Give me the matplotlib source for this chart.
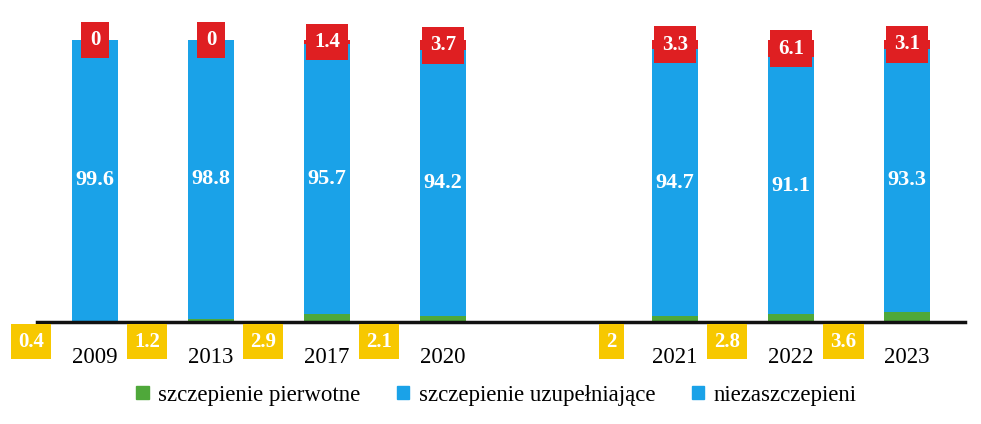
import numpy as np
import matplotlib
matplotlib.use("Agg")
import matplotlib.pyplot as plt
from matplotlib.patches import Patch

plt.rcParams['font.family'] = ['Liberation Serif', 'DejaVu Serif']

# dane
lata = ['2009', '2013', '2017', '2020', '2021', '2022', '2023']
pierwotne = [0.4, 1.2, 2.9, 2.1, 2, 2.8, 3.6]
uzupelniajace = [99.6, 98.8, 95.7, 94.2, 94.7, 91.1, 93.3]
niezaszczepieni = [0, 0, 1.4, 3.7, 3.3, 6.1, 3.1]

zielony = '#4FA83A'
niebieski = '#1AA2E8'
czerwony = '#DF1F22'
zolty = '#F7C800'

# pozycje slupkow - przerwa miedzy 2020 a 2021
x = np.arange(len(lata), dtype=float)
x[4:] += 1

p = np.array(pierwotne)
u = np.array(uzupelniajace)
n = np.array(niezaszczepieni)

fig = plt.figure(figsize=(9.81, 4.24), dpi=100)
ax = fig.add_axes([0.0377, 0.2406, 0.946, 0.665 * 1.07])

w = 0.39
ax.bar(x, p, w, color=zielony)
ax.bar(x, u, w, bottom=p, color=niebieski)
ax.bar(x, n, w, bottom=p + u, color=czerwony)

# etykiety
for xi, pi, ui, ni in zip(x, p, u, n):
    ax.text(xi, pi + ui / 2, f'{ui:g}', ha='center', va='center',
            color='white', fontsize=16, fontweight='bold')
    ax.text(xi, pi + ui + ni / 2, f'{ni:g}', ha='center', va='center',
            color='white', fontsize=15, fontweight='bold',
            bbox=dict(boxstyle='square,pad=0.4', fc=czerwony, ec='none'))
    ax.text(xi - 0.55, -7, f'{pi:g}', ha='center', va='center',
            color='white', fontsize=15, fontweight='bold', clip_on=False,
            bbox=dict(boxstyle='square,pad=0.35', fc=zolty, ec='none'))

ax.set_xlim(-0.5, 7.5)
ax.set_ylim(0, 107)
ax.set_xticks(x)
ax.set_xticklabels(lata, fontsize=16.5)
ax.tick_params(axis='x', length=0, pad=18)
ax.set_yticks([])
for s in ['top', 'left', 'right']:
    ax.spines[s].set_visible(False)
ax.spines['bottom'].set_linewidth(2.5)
ax.spines['bottom'].set_color('#111111')
ax.patch.set_alpha(0)

uchwyty = [Patch(color=zielony, label='szczepienie pierwotne'),
           Patch(color=niebieski, label='szczepienie uzupełniające'),
           Patch(color=niebieski, label='niezaszczepieni')]
fig.legend(handles=uchwyty, loc='center', bbox_to_anchor=(0.506, 0.068),
           ncol=3, frameon=False, fontsize=16.5, handlelength=0.55,
           handleheight=0.55, handletextpad=0.4, columnspacing=1.6)

fig.savefig('out.png', dpi=100)
